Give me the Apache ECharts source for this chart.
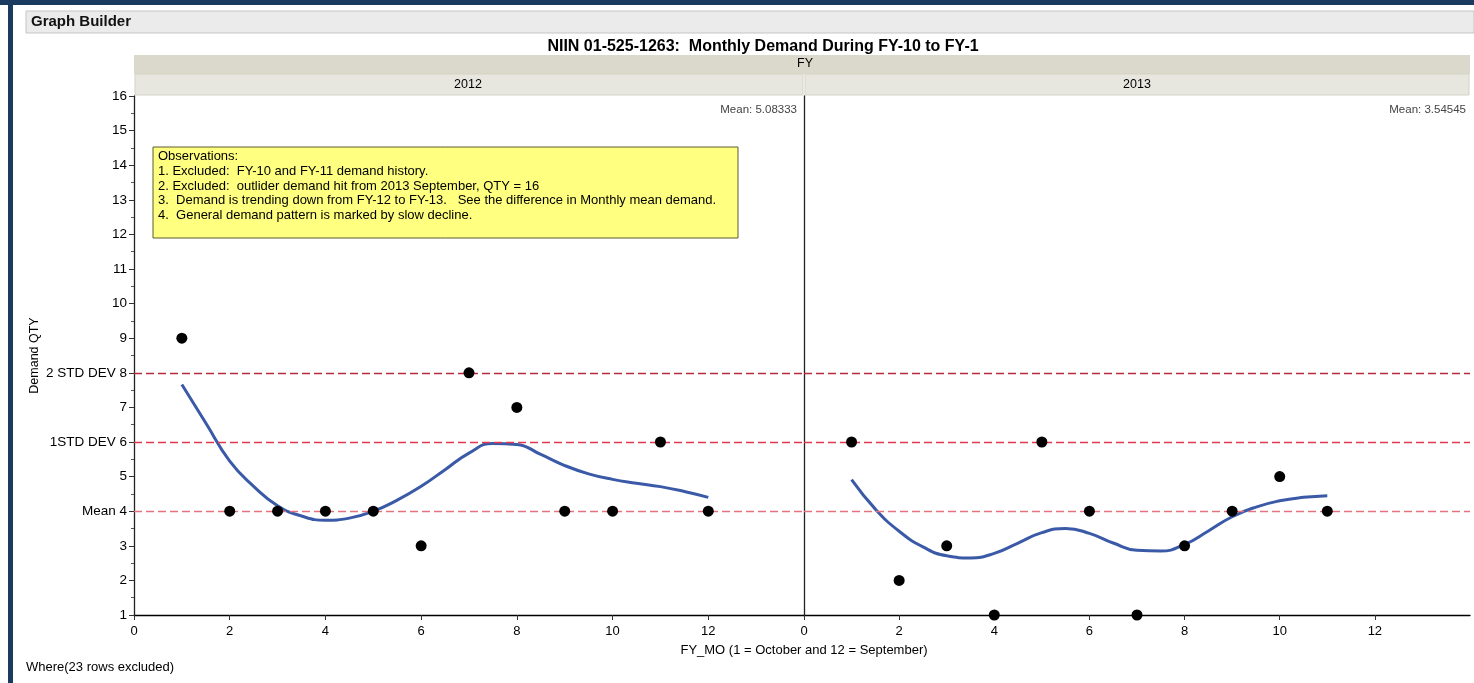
<!DOCTYPE html>
<html>
<head>
<meta charset="utf-8">
<script src="https://cdn.jsdelivr.net/npm/echarts@6/dist/echarts.min.js"></script>
<style>
  html, body { margin: 0; padding: 0; background: #fff; }
  #chart { width: 1474px; height: 683px; }
</style>
</head>
<body>
<div id="chart"></div>
<script>
// monthly demand, FY_MO 1..12
var months2012 = [1, 2, 3, 4, 5, 6, 7, 8, 9, 10, 11, 12];
var demand2012 = [9, 4, 4, 4, 4, 3, 8, 7, 4, 4, 6, 4];
var months2013 = [1, 2, 3, 4, 5, 6, 7, 8, 9, 10, 11];
var demand2013 = [6, 2, 3, 1, 6, 4, 1, 3, 4, 5, 4];

// smoother curve, every half month
var smoothX2012 = [1, 1.5, 2, 2.5, 3, 3.5, 4, 4.5, 5, 5.5, 6, 6.5, 7, 7.5, 8, 8.5, 9, 9.5, 10, 10.5, 11, 11.5, 12];
var smoothY2012 = [7.66, 6.55, 5.45, 4.72, 4.16, 3.86, 3.74, 3.8, 4.0, 4.32, 4.72, 5.2, 5.68, 5.96, 5.93, 5.64, 5.32, 5.08, 4.92, 4.81, 4.71, 4.57, 4.40];
var smoothX2013 = [1, 1.5, 2, 2.5, 3, 3.5, 4, 4.5, 5, 5.5, 6, 6.5, 7, 7.5, 8, 8.5, 9, 9.5, 10, 10.5, 11];
var smoothY2013 = [4.91, 4.06, 3.42, 2.97, 2.71, 2.65, 2.78, 3.08, 3.38, 3.5, 3.36, 3.08, 2.87, 2.85, 3.04, 3.43, 3.84, 4.12, 4.3, 4.4, 4.45];

var refValues = [8, 6, 4];
var refNames = ['2 STD DEV', '1STD DEV', 'Mean'];
var refColors = ['#b52a3c', '#e0384e', '#e2737f'];
var meanText = ['Mean: 5.08333', 'Mean: 3.54545'];

var FONT = 'Arial, "Liberation Sans", sans-serif';

function pairs(xs, ys) {
    var out = [];
    for (var i = 0; i < xs.length; i++) out.push([xs[i], ys[i]]);
    return out;
}

var refLines = refValues.map(function (v, i) {
    return { yAxis: v, lineStyle: { color: refColors[i], type: [8, 4], width: 1.3 } };
});

function yLabel(v) {
    var i = refValues.indexOf(v);
    return i >= 0 ? refNames[i] + ' ' + v : String(v);
}

var chart = echarts.init(document.getElementById('chart'));

var xAxisBase = {
    type: 'value', min: 0, max: 14, interval: 2,
    axisLine: { show: true, lineStyle: { color: '#000', width: 1.3 } },
    axisTick: { show: true, length: 5, lineStyle: { color: '#333' } },
    axisLabel: { color: '#000', fontSize: 13, fontFamily: FONT, margin: 10, showMaxLabel: false },
    splitLine: { show: false }
};

var option = {
    animation: false,
    backgroundColor: '#fff',
    title: {
        text: 'NIIN 01-525-1263:  Monthly Demand During FY-10 to FY-1',
        left: 758, top: 34, textAlign: 'center',
        textStyle: { fontSize: 16, fontWeight: 'bold', fontFamily: FONT, color: '#000' }
    },
    grid: [
        { left: 134, top: 96, width: 670, height: 519 },
        { left: 804, top: 96, width: 666, height: 519 }
    ],
    xAxis: [
        Object.assign({}, xAxisBase, { gridIndex: 0 }),
        Object.assign({}, xAxisBase, {
            gridIndex: 1,
            name: 'FY_MO (1 = October and 12 = September)',
            nameLocation: 'start', nameGap: 0,
            nameTextStyle: { fontSize: 13, fontFamily: FONT, color: '#000', align: 'center', verticalAlign: 'top', padding: [29, 0, 0, 0] }
        })
    ],
    yAxis: [
        {
            gridIndex: 0, type: 'value', min: 1, max: 16, interval: 1,
            name: 'Demand QTY', nameLocation: 'middle', nameGap: 93,
            nameTextStyle: { fontSize: 12.5, fontFamily: FONT, color: '#000' },
            axisLine: { show: true, lineStyle: { color: '#222', width: 1.3 } },
            axisTick: { show: true, length: 5, lineStyle: { color: '#333' } },
            minorTick: { show: true, splitNumber: 2, length: 3, lineStyle: { color: '#555' } },
            axisLabel: { color: '#000', fontSize: 13.5, fontFamily: FONT, margin: 7, formatter: yLabel },
            splitLine: { show: false }
        },
        {
            gridIndex: 1, type: 'value', min: 1, max: 16, interval: 1,
            axisLine: { show: true, lineStyle: { color: '#222', width: 1.3 } },
            axisTick: { show: false },
            axisLabel: { show: false },
            splitLine: { show: false }
        }
    ],
    series: [
        {
            type: 'scatter', xAxisIndex: 0, yAxisIndex: 0,
            data: pairs(months2012, demand2012),
            symbolSize: 11, itemStyle: { color: '#000', opacity: 1 }, z: 5,
            markLine: { silent: true, symbol: 'none', label: { show: false }, data: refLines }
        },
        {
            type: 'line', xAxisIndex: 0, yAxisIndex: 0,
            data: pairs(smoothX2012, smoothY2012),
            smooth: 0.5, showSymbol: false,
            lineStyle: { color: '#3a5aa8', width: 3 }, z: 4
        },
        {
            type: 'scatter', xAxisIndex: 1, yAxisIndex: 1,
            data: pairs(months2013, demand2013),
            symbolSize: 11, itemStyle: { color: '#000', opacity: 1 }, z: 5,
            markLine: { silent: true, symbol: 'none', label: { show: false }, data: refLines }
        },
        {
            type: 'line', xAxisIndex: 1, yAxisIndex: 1,
            data: pairs(smoothX2013, smoothY2013),
            smooth: 0.5, showSymbol: false,
            lineStyle: { color: '#3a5aa8', width: 3 }, z: 4
        }
    ],
    graphic: [
        // navy frame
        { type: 'rect', shape: { x: 0, y: 0, width: 1474, height: 5 }, style: { fill: '#1b3a60' } },
        { type: 'rect', shape: { x: 8, y: 0, width: 5, height: 683 }, style: { fill: '#1b3a60' } },
        // Graph Builder bar
        { type: 'rect', shape: { x: 26, y: 11, width: 1448, height: 22 }, style: { fill: '#ebebeb', stroke: '#c4c4c4', lineWidth: 1 } },
        { type: 'text', left: 31, top: 14, style: { text: 'Graph Builder', font: 'bold 15px ' + FONT, fill: '#111' } },
        // FY header bands
        { type: 'rect', shape: { x: 134, y: 55, width: 1336, height: 19 }, style: { fill: '#dbd9cb' } },
        { type: 'text', x: 805, y: 64, style: { text: 'FY', font: '12.5px ' + FONT, fill: '#000', align: 'center', verticalAlign: 'middle' } },
        { type: 'rect', shape: { x: 135, y: 74, width: 668, height: 21 }, style: { fill: '#e8e7df', stroke: '#d4d3c6', lineWidth: 1 } },
        { type: 'rect', shape: { x: 805, y: 74, width: 664, height: 21 }, style: { fill: '#e8e7df', stroke: '#d4d3c6', lineWidth: 1 } },
        { type: 'text', x: 468, y: 85, style: { text: '2012', font: '12.5px ' + FONT, fill: '#000', align: 'center', verticalAlign: 'middle' } },
        { type: 'text', x: 1137, y: 85, style: { text: '2013', font: '12.5px ' + FONT, fill: '#000', align: 'center', verticalAlign: 'middle' } },
        // mean labels
        { type: 'text', x: 797, y: 110, style: { text: meanText[0], font: '11.5px ' + FONT, fill: '#444', align: 'right', verticalAlign: 'middle' } },
        { type: 'text', x: 1466, y: 110, style: { text: meanText[1], font: '11.5px ' + FONT, fill: '#444', align: 'right', verticalAlign: 'middle' } },
        // observations box
        { type: 'rect', z: 10, shape: { x: 153, y: 147, width: 585, height: 91 }, style: { fill: '#ffff80', stroke: '#5a5a30', lineWidth: 1 } },
        {
            type: 'text', z: 11, left: 158, top: 149,
            style: {
                text: 'Observations:\n1. Excluded:  FY-10 and FY-11 demand history.\n2. Excluded:  outlider demand hit from 2013 September, QTY = 16\n3.  Demand is trending down from FY-12 to FY-13.   See the difference in Monthly mean demand.\n4.  General demand pattern is marked by slow decline.',
                font: '13px ' + FONT, fill: '#000', lineHeight: 14.8
            }
        },
        // footer
        { type: 'text', left: 26, top: 661, style: { text: 'Where(23 rows excluded)', font: '13px ' + FONT, fill: '#000' } }
    ]
};

chart.setOption(option);
window.addEventListener('resize', chart.resize);
</script>
</body>
</html>
